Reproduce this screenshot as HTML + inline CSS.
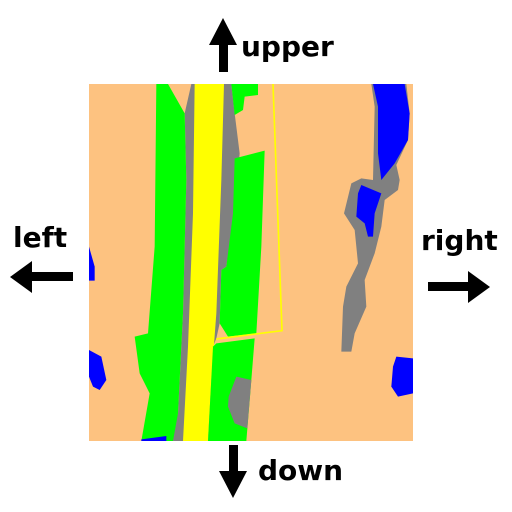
<!DOCTYPE html>
<html><head><meta charset="utf-8"><style>
html,body{margin:0;padding:0;background:#fff;width:512px;height:512px;overflow:hidden}
text{font-family:"DejaVu Sans","Liberation Sans",sans-serif;font-weight:bold;fill:#000}
</style></head><body>
<svg width="512" height="512" viewBox="0 0 512 512">
<g transform="translate(88,80) scale(0.33333)">
<rect x="3" y="12" width="972" height="1071" fill="#fdc280"/>
<polygon fill="#808080" points="310,12,430,12,440,100,455,220,440,400,415,560,400,570,395,730,385,775,375,800,360,1083,240,1083,270,1000,285,700,295,300,290,100"/>
<polygon fill="#00ff00" points="205,12,240,12,290,100,295,300,285,700,270,1000,255,1083,160,1083,185,940,155,880,140,770,180,760,200,500"/>
<polygon fill="#ffff00" points="320,12,408,12,400,300,385,700,370,900,360,1083,285,1083,300,800,315,400"/>
<polygon fill="#00ff00" points="430,12,510,12,510,45,470,50,465,90,440,105"/>
<polygon fill="#00ff00" points="440,235,530,212,520,500,505,760,420,770,395,730,400,570,415,560,435,400"/>
<polygon fill="#00ff00" points="385,790,500,775,490,900,475,1083,360,1083,375,800"/>
<polygon fill="#808080" points="445,890,490,900,478,1045,440,1030,420,980,422,950"/>
<polygon fill="#0000ff" points="160,1078,235,1068,235,1083,160,1083"/>
<polyline fill="none" stroke="#ffff00" stroke-width="5" points="555,12,582,752,385,777"/>
<polygon fill="#808080" points="850,12,955,12,965,100,960,180,925,255,935,300,930,330,890,360,880,440,860,520,830,600,835,680,800,760,790,815,760,815,765,680,775,620,810,550,800,450,768,400,790,310,820,295,855,300,860,80"/>
<polygon fill="#0000ff" points="855,12,950,12,965,100,960,180,920,250,880,300,870,220,870,80"/>
<polygon fill="#0000ff" points="820,315,880,340,860,400,855,470,840,470,830,430,805,410,810,340"/>
<polygon fill="#0000ff" points="925,830,975,835,975,940,930,950,910,920,915,860"/>
<polygon fill="#0000ff" points="3,500,20,560,20,602,3,602"/>
<polygon fill="#0000ff" points="3,810,40,830,55,900,35,930,15,920,3,890"/>
</g>
<g>
<polygon fill="#000" points="223,18,209,45,219,45,219,72,228,72,228,45,237,45"/>
<text x="241" y="56" font-size="28">upper</text>
</g>
<g>
<text x="13" y="247" font-size="28">left</text>
<polygon fill="#000" points="10,277,32,261,32,272,73,272,73,281,32,281,32,293"/>
</g>
<g>
<text x="421" y="250" font-size="28">right</text>
<polygon fill="#000" points="490,287,468,271,468,282,428,282,428,291,468,291,468,303"/>
</g>
<g>
<polygon fill="#000" points="233,498,219,471,229,471,229,445,238,445,238,471,247,471"/>
<text x="258" y="480" font-size="28">down</text>
</g>
</svg>
</body></html>
